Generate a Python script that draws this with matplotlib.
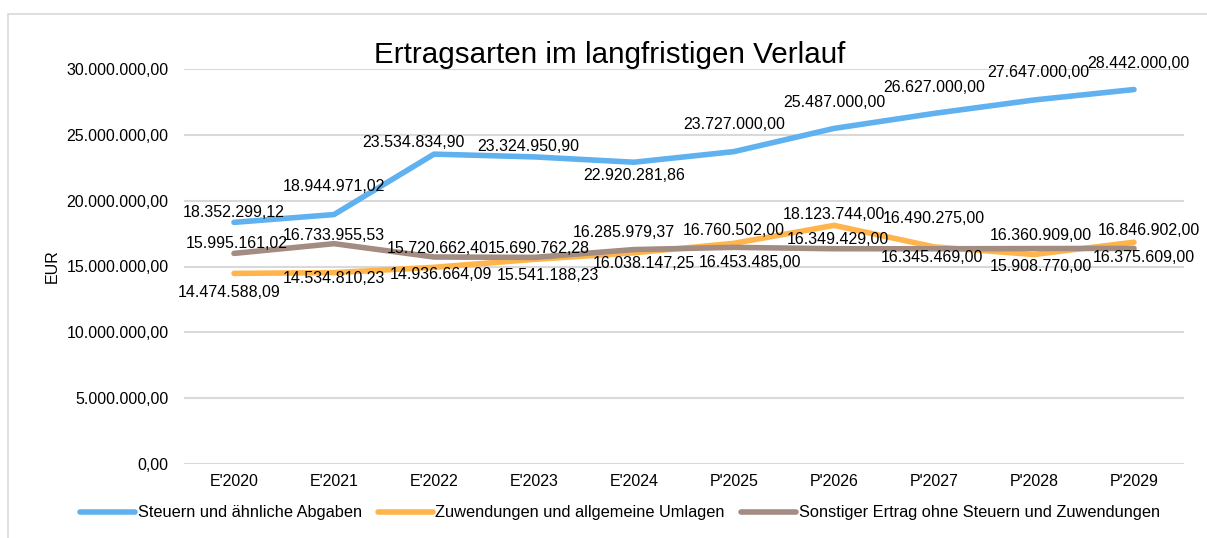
import matplotlib.pyplot as plt
import matplotlib.patches as mpatches
from matplotlib.ticker import FuncFormatter

plt.rcParams['font.family'] = ['Liberation Sans', 'DejaVu Sans']

categories = ["E'2020", "E'2021", "E'2022", "E'2023", "E'2024",
              "P'2025", "P'2026", "P'2027", "P'2028", "P'2029"]
steuern = [18352299.12, 18944971.02, 23534834.90, 23324950.90, 22920281.86,
           23727000.00, 25487000.00, 26627000.00, 27647000.00, 28442000.00]
zuwendungen = [14474588.09, 14534810.23, 14936664.09, 15541188.23, 16038147.25,
               16760502.00, 18123744.00, 16490275.00, 15908770.00, 16846902.00]
sonstige = [15995161.02, 16733955.53, 15720662.40, 15690762.28, 16285979.37,
            16453485.00, 16349429.00, 16345469.00, 16360909.00, 16375609.00]
names = ["Steuern und ähnliche Abgaben",
         "Zuwendungen und allgemeine Umlagen",
         "Sonstiger Ertrag ohne Steuern und Zuwendungen"]

# label offsets in pixels (dx, dy) as placed in the original chart
off_steuern = [(0, 10), (0, 28), (-21, 12), (-6, 10), (0, -13),
               (0, 27), (0, 26), (0, 26), (4, 27), (4, 26)]
off_zuw = [(-5, -19), (0, -6), (7, -7), (14, -16), (10, -11),
           (0, 13), (0, 11), (0, 28), (7, -12), (15, 12)]
off_sonst = [(3, 10), (0, 8), (4, 9), (5, 9), (-10, 17),
             (16, -15), (4, 9), (-2, -9), (7, 13), (10, -9)]


def de(v):
    s = f"{v:,.2f}"
    return s.replace(",", "X").replace(".", ",").replace("X", ".")


fig = plt.figure(figsize=(12.07, 5.38), dpi=100)
fig.patches.append(mpatches.Rectangle((7.5 / 1207, -0.1), 1.2, 1.1 - 14 / 538,
                                      transform=fig.transFigure, fill=False,
                                      edgecolor="#d9d9d9", linewidth=1.2))
ax = fig.add_axes([184 / 1207, 1 - 464 / 538, 1000 / 1207, 395 / 538])

x = list(range(len(categories)))
blue, orange, brown = "#5fb1ef", "#ffb54c", "#a38c82"
series = [(steuern, blue, names[0], off_steuern, 3),
          (zuwendungen, orange, names[1], off_zuw, 3),
          (sonstige, brown, names[2], off_sonst, 4)]

fs = 11.5
for vals, col, name, offs, z in series:
    ax.plot(x, vals, color=col, lw=4, solid_capstyle="round", label=name, zorder=z)
    for i, v in enumerate(vals):
        ax.annotate(de(v), (i, v), xytext=offs[i], textcoords="offset pixels",
                    ha="center", va="center", fontsize=fs, zorder=5)

ax.set_xlim(-0.5, 9.5)
ax.set_ylim(0, 30000000)
ax.set_yticks(range(0, 30000001, 5000000))
ax.yaxis.set_major_formatter(FuncFormatter(lambda v, p: de(v)))
ax.set_xticks(x)
ax.set_xticklabels(categories)
ax.tick_params(length=0, labelsize=fs)
ax.tick_params(axis="x", pad=7)
ax.tick_params(axis="y", pad=11)
ax.grid(axis="y", color="#d9d9d9", linewidth=1.5)
ax.set_axisbelow(True)
for s in ax.spines.values():
    s.set_visible(False)
ax.set_ylabel("EUR", fontsize=fs, va="center")
ax.yaxis.set_label_coords(-0.132, 0.5)

fig.text(610 / 1207, 1 - 63 / 538, "Ertragsarten im langfristigen Verlauf",
         ha="center", va="baseline", fontsize=21.3)

fig.legend(loc="center", bbox_to_anchor=(620 / 1207, 1 - 513 / 538), ncol=3,
           frameon=False, fontsize=11.8, handlelength=3.35, handletextpad=0.15,
           columnspacing=1.0, borderpad=0)

fig.savefig("out.png", dpi=100)
